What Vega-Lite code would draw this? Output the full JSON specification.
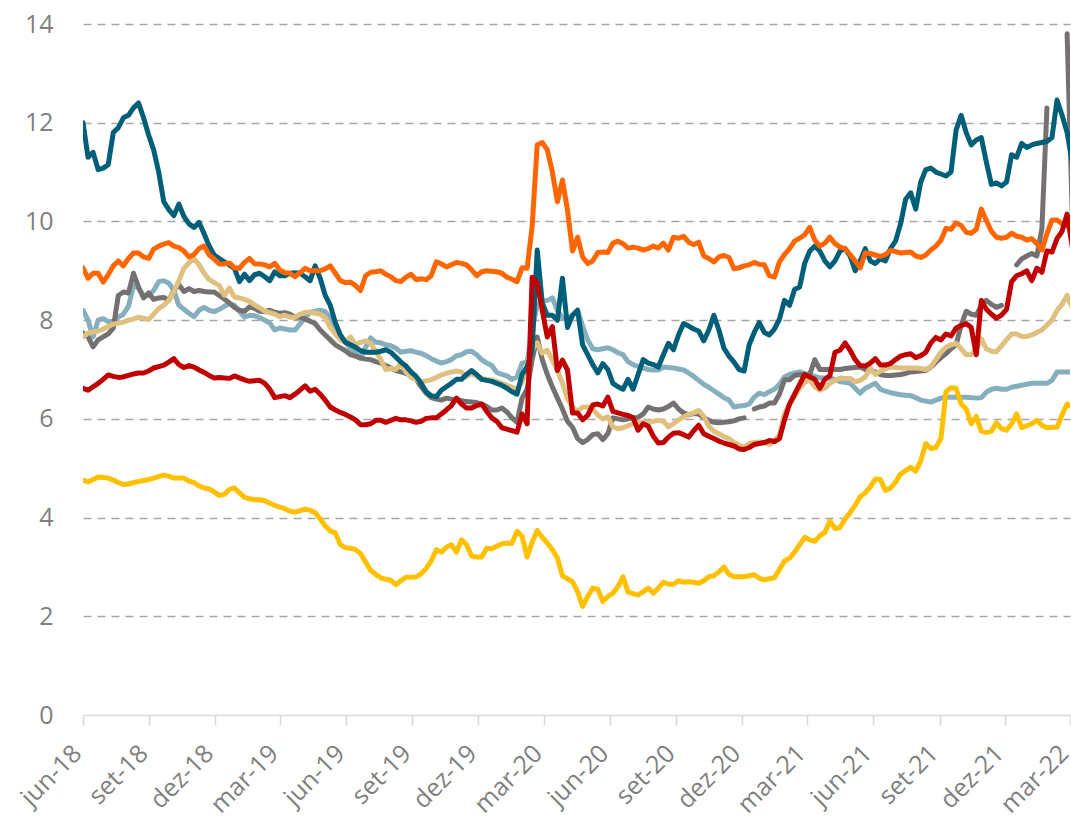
{
"$schema": "https://vega.github.io/schema/vega-lite/v6.json",
"width": 987,
"height": 691,
"autosize": {"type": "none"},
"padding": {"left": 83, "top": 24, "right": 1, "bottom": 106},
"background": "white",
"config": {"view": {"stroke": null}, "font": "Open Sans"},
"data": {"values": [
{"d":"2018-06-01","T":12.0,"O":9.06,"G":7.74,"L":8.2,"N":7.66,"R":6.62,"Y":4.76},
{"d":"2018-06-08","T":11.3,"O":8.85,"G":7.66,"L":8.0,"N":7.74,"R":6.58,"Y":4.72},
{"d":"2018-06-15","T":11.4,"O":8.95,"G":7.46,"L":7.66,"N":7.76,"R":6.65,"Y":4.77},
{"d":"2018-06-22","T":11.05,"O":8.95,"G":7.6,"L":8.0,"N":7.78,"R":6.72,"Y":4.82},
{"d":"2018-06-29","T":11.08,"O":8.77,"G":7.66,"L":8.03,"N":7.82,"R":6.8,"Y":4.81},
{"d":"2018-07-06","T":11.15,"O":8.92,"G":7.72,"L":7.97,"N":7.87,"R":6.89,"Y":4.8},
{"d":"2018-07-13","T":11.8,"O":9.1,"G":7.84,"L":7.97,"N":7.92,"R":6.86,"Y":4.76},
{"d":"2018-07-20","T":11.9,"O":9.2,"G":8.5,"L":8.06,"N":7.94,"R":6.84,"Y":4.71},
{"d":"2018-07-27","T":12.1,"O":9.1,"G":8.57,"L":8.12,"N":7.96,"R":6.85,"Y":4.67},
{"d":"2018-08-03","T":12.15,"O":9.25,"G":8.55,"L":8.28,"N":8.0,"R":6.88,"Y":4.68},
{"d":"2018-08-10","T":12.3,"O":9.36,"G":8.95,"L":8.7,"N":8.02,"R":6.91,"Y":4.71},
{"d":"2018-08-17","T":12.4,"O":9.36,"G":8.67,"L":8.65,"N":8.06,"R":6.93,"Y":4.73},
{"d":"2018-08-24","T":12.1,"O":9.28,"G":8.45,"L":8.5,"N":8.04,"R":6.93,"Y":4.75},
{"d":"2018-08-31","T":11.75,"O":9.25,"G":8.55,"L":8.5,"N":8.01,"R":6.97,"Y":4.77},
{"d":"2018-09-07","T":11.45,"O":9.44,"G":8.42,"L":8.6,"N":8.12,"R":7.03,"Y":4.8},
{"d":"2018-09-14","T":11.0,"O":9.5,"G":8.45,"L":8.78,"N":8.24,"R":7.06,"Y":4.83},
{"d":"2018-09-21","T":10.4,"O":9.54,"G":8.46,"L":8.8,"N":8.3,"R":7.09,"Y":4.86},
{"d":"2018-09-28","T":10.24,"O":9.57,"G":8.4,"L":8.75,"N":8.4,"R":7.15,"Y":4.84},
{"d":"2018-10-05","T":10.12,"O":9.5,"G":8.6,"L":8.6,"N":8.58,"R":7.22,"Y":4.8},
{"d":"2018-10-12","T":10.35,"O":9.47,"G":8.72,"L":8.3,"N":8.8,"R":7.1,"Y":4.8},
{"d":"2018-10-19","T":10.1,"O":9.4,"G":8.58,"L":8.22,"N":9.05,"R":7.04,"Y":4.8},
{"d":"2018-10-26","T":9.95,"O":9.28,"G":8.64,"L":8.14,"N":9.16,"R":7.08,"Y":4.74},
{"d":"2018-11-02","T":9.88,"O":9.33,"G":8.58,"L":8.07,"N":9.25,"R":7.05,"Y":4.71},
{"d":"2018-11-09","T":9.98,"O":9.45,"G":8.6,"L":8.2,"N":9.12,"R":6.99,"Y":4.64},
{"d":"2018-11-16","T":9.75,"O":9.5,"G":8.58,"L":8.26,"N":8.95,"R":6.94,"Y":4.6},
{"d":"2018-11-23","T":9.5,"O":9.32,"G":8.57,"L":8.2,"N":8.82,"R":6.88,"Y":4.58},
{"d":"2018-11-30","T":9.32,"O":9.24,"G":8.57,"L":8.17,"N":8.76,"R":6.83,"Y":4.52},
{"d":"2018-12-07","T":9.25,"O":9.14,"G":8.5,"L":8.22,"N":8.7,"R":6.84,"Y":4.45},
{"d":"2018-12-14","T":9.18,"O":9.14,"G":8.43,"L":8.28,"N":8.5,"R":6.83,"Y":4.47},
{"d":"2018-12-21","T":9.12,"O":9.16,"G":8.35,"L":8.33,"N":8.65,"R":6.82,"Y":4.57},
{"d":"2018-12-28","T":9.05,"O":9.06,"G":8.26,"L":8.3,"N":8.47,"R":6.87,"Y":4.6},
{"d":"2019-01-04","T":8.78,"O":9.05,"G":8.2,"L":8.18,"N":8.45,"R":6.83,"Y":4.5},
{"d":"2019-01-11","T":8.93,"O":9.17,"G":8.18,"L":8.06,"N":8.42,"R":6.79,"Y":4.41},
{"d":"2019-01-18","T":8.8,"O":9.25,"G":8.27,"L":8.1,"N":8.38,"R":6.76,"Y":4.38},
{"d":"2019-01-25","T":8.92,"O":9.14,"G":8.24,"L":8.09,"N":8.31,"R":6.77,"Y":4.36},
{"d":"2019-02-01","T":8.95,"O":9.14,"G":8.18,"L":8.05,"N":8.25,"R":6.78,"Y":4.36},
{"d":"2019-02-08","T":8.88,"O":9.12,"G":8.17,"L":8.0,"N":8.18,"R":6.72,"Y":4.34},
{"d":"2019-02-15","T":8.8,"O":9.08,"G":8.2,"L":7.94,"N":8.15,"R":6.6,"Y":4.29},
{"d":"2019-02-22","T":8.98,"O":9.15,"G":8.16,"L":7.8,"N":8.12,"R":6.43,"Y":4.25},
{"d":"2019-03-01","T":8.9,"O":9.02,"G":8.14,"L":7.84,"N":8.07,"R":6.45,"Y":4.21},
{"d":"2019-03-08","T":8.9,"O":8.96,"G":8.15,"L":7.82,"N":8.1,"R":6.47,"Y":4.18},
{"d":"2019-03-15","T":8.95,"O":8.95,"G":8.12,"L":7.8,"N":8.06,"R":6.43,"Y":4.13},
{"d":"2019-03-22","T":8.96,"O":8.88,"G":8.06,"L":7.8,"N":8.06,"R":6.5,"Y":4.11},
{"d":"2019-03-29","T":8.95,"O":8.96,"G":8.06,"L":7.92,"N":8.12,"R":6.58,"Y":4.14},
{"d":"2019-04-05","T":8.88,"O":9.05,"G":8.02,"L":8.05,"N":8.16,"R":6.67,"Y":4.17},
{"d":"2019-04-12","T":8.8,"O":9.0,"G":7.98,"L":8.16,"N":8.16,"R":6.56,"Y":4.15},
{"d":"2019-04-19","T":9.1,"O":9.0,"G":7.93,"L":8.18,"N":8.14,"R":6.6,"Y":4.1},
{"d":"2019-04-26","T":8.85,"O":9.0,"G":7.8,"L":8.2,"N":8.12,"R":6.5,"Y":3.97},
{"d":"2019-05-03","T":8.5,"O":9.04,"G":7.7,"L":8.17,"N":8.05,"R":6.38,"Y":3.83},
{"d":"2019-05-10","T":8.3,"O":9.1,"G":7.6,"L":8.05,"N":7.85,"R":6.24,"Y":3.73},
{"d":"2019-05-17","T":7.95,"O":8.95,"G":7.5,"L":7.85,"N":7.72,"R":6.18,"Y":3.69},
{"d":"2019-05-24","T":7.7,"O":8.8,"G":7.44,"L":7.68,"N":7.6,"R":6.13,"Y":3.45},
{"d":"2019-05-31","T":7.55,"O":8.76,"G":7.38,"L":7.55,"N":7.55,"R":6.09,"Y":3.39},
{"d":"2019-06-07","T":7.5,"O":8.77,"G":7.3,"L":7.43,"N":7.66,"R":6.04,"Y":3.38},
{"d":"2019-06-14","T":7.45,"O":8.7,"G":7.27,"L":7.33,"N":7.5,"R":5.98,"Y":3.35},
{"d":"2019-06-21","T":7.38,"O":8.6,"G":7.23,"L":7.23,"N":7.55,"R":5.88,"Y":3.27},
{"d":"2019-06-28","T":7.35,"O":8.9,"G":7.21,"L":7.45,"N":7.58,"R":5.88,"Y":3.1},
{"d":"2019-07-05","T":7.35,"O":8.97,"G":7.2,"L":7.64,"N":7.53,"R":5.9,"Y":2.93},
{"d":"2019-07-12","T":7.35,"O":8.98,"G":7.16,"L":7.55,"N":7.37,"R":5.97,"Y":2.85},
{"d":"2019-07-19","T":7.37,"O":9.0,"G":7.13,"L":7.54,"N":7.2,"R":5.97,"Y":2.78},
{"d":"2019-07-26","T":7.4,"O":8.93,"G":7.08,"L":7.5,"N":7.0,"R":5.93,"Y":2.75},
{"d":"2019-08-02","T":7.35,"O":8.88,"G":7.03,"L":7.48,"N":7.02,"R":5.97,"Y":2.73},
{"d":"2019-08-09","T":7.25,"O":8.8,"G":6.98,"L":7.43,"N":7.0,"R":6.01,"Y":2.64},
{"d":"2019-08-16","T":7.15,"O":8.78,"G":6.95,"L":7.35,"N":7.12,"R":5.98,"Y":2.72},
{"d":"2019-08-23","T":7.07,"O":8.87,"G":6.92,"L":7.37,"N":6.95,"R":5.98,"Y":2.79},
{"d":"2019-08-30","T":6.95,"O":8.93,"G":6.88,"L":7.38,"N":6.84,"R":5.96,"Y":2.79},
{"d":"2019-09-06","T":6.86,"O":8.82,"G":6.8,"L":7.35,"N":6.79,"R":5.93,"Y":2.8},
{"d":"2019-09-13","T":6.72,"O":8.84,"G":6.65,"L":7.33,"N":6.75,"R":5.95,"Y":2.86},
{"d":"2019-09-20","T":6.55,"O":8.82,"G":6.52,"L":7.28,"N":6.77,"R":6.01,"Y":2.97},
{"d":"2019-09-27","T":6.47,"O":8.9,"G":6.43,"L":7.22,"N":6.79,"R":6.02,"Y":3.12},
{"d":"2019-10-04","T":6.45,"O":9.18,"G":6.4,"L":7.17,"N":6.84,"R":6.02,"Y":3.35},
{"d":"2019-10-11","T":6.58,"O":9.14,"G":6.38,"L":7.13,"N":6.89,"R":6.1,"Y":3.3},
{"d":"2019-10-18","T":6.65,"O":9.08,"G":6.42,"L":7.16,"N":6.92,"R":6.18,"Y":3.4},
{"d":"2019-10-25","T":6.72,"O":9.12,"G":6.4,"L":7.2,"N":6.95,"R":6.27,"Y":3.45},
{"d":"2019-11-01","T":6.8,"O":9.17,"G":6.38,"L":7.28,"N":6.97,"R":6.42,"Y":3.3},
{"d":"2019-11-08","T":6.8,"O":9.15,"G":6.37,"L":7.3,"N":6.95,"R":6.3,"Y":3.55},
{"d":"2019-11-15","T":6.9,"O":9.12,"G":6.35,"L":7.36,"N":6.86,"R":6.22,"Y":3.45},
{"d":"2019-11-22","T":6.98,"O":9.02,"G":6.34,"L":7.37,"N":6.92,"R":6.22,"Y":3.22},
{"d":"2019-11-29","T":6.9,"O":8.9,"G":6.33,"L":7.3,"N":6.86,"R":6.27,"Y":3.2},
{"d":"2019-12-06","T":6.8,"O":8.98,"G":6.3,"L":7.2,"N":6.82,"R":6.3,"Y":3.2},
{"d":"2019-12-13","T":6.78,"O":9.0,"G":6.25,"L":7.13,"N":6.8,"R":6.15,"Y":3.38},
{"d":"2019-12-20","T":6.76,"O":8.99,"G":6.18,"L":7.08,"N":6.79,"R":6.02,"Y":3.37},
{"d":"2019-12-27","T":6.72,"O":8.98,"G":6.18,"L":6.94,"N":6.76,"R":5.95,"Y":3.42},
{"d":"2020-01-03","T":6.68,"O":8.95,"G":6.22,"L":6.9,"N":6.72,"R":5.82,"Y":3.47},
{"d":"2020-01-10","T":6.62,"O":8.87,"G":6.14,"L":6.87,"N":6.68,"R":5.79,"Y":3.48},
{"d":"2020-01-17","T":6.55,"O":8.83,"G":6.02,"L":6.8,"N":6.64,"R":5.76,"Y":3.48},
{"d":"2020-01-24","T":6.5,"O":8.78,"G":5.93,"L":6.85,"N":6.6,"R":5.73,"Y":3.72},
{"d":"2020-01-31","T":6.9,"O":9.06,"G":6.42,"L":7.13,"N":6.74,"R":6.1,"Y":3.62},
{"d":"2020-02-07","T":7.05,"O":9.05,"G":6.6,"L":7.15,"N":7.1,"R":5.9,"Y":3.2},
{"d":"2020-02-14","T":7.4,"O":9.9,"G":7.2,"L":7.8,"N":7.4,"R":8.87,"Y":3.5},
{"d":"2020-02-21","T":9.42,"O":11.55,"G":7.66,"L":8.3,"N":7.54,"R":8.75,"Y":3.74},
{"d":"2020-02-28","T":8.35,"O":11.6,"G":7.2,"L":8.38,"N":7.33,"R":8.2,"Y":3.6},
{"d":"2020-03-06","T":8.1,"O":11.45,"G":6.9,"L":8.4,"N":7.39,"R":7.66,"Y":3.48},
{"d":"2020-03-13","T":8.1,"O":11.0,"G":6.65,"L":8.45,"N":7.19,"R":7.87,"Y":3.35},
{"d":"2020-03-20","T":8.0,"O":10.4,"G":6.42,"L":8.2,"N":6.98,"R":6.98,"Y":3.18},
{"d":"2020-03-27","T":8.85,"O":10.84,"G":6.2,"L":8.04,"N":6.72,"R":7.19,"Y":2.82},
{"d":"2020-04-03","T":7.85,"O":10.23,"G":5.95,"L":8.04,"N":6.4,"R":6.99,"Y":2.76},
{"d":"2020-04-10","T":8.1,"O":9.4,"G":5.83,"L":8.1,"N":6.25,"R":6.12,"Y":2.7},
{"d":"2020-04-17","T":8.2,"O":9.68,"G":5.6,"L":8.2,"N":6.15,"R":6.12,"Y":2.5},
{"d":"2020-04-24","T":7.5,"O":9.28,"G":5.52,"L":7.88,"N":6.24,"R":5.98,"Y":2.2},
{"d":"2020-05-01","T":7.3,"O":9.15,"G":5.58,"L":7.6,"N":6.24,"R":6.07,"Y":2.4},
{"d":"2020-05-08","T":7.1,"O":9.2,"G":5.68,"L":7.42,"N":6.2,"R":6.28,"Y":2.57},
{"d":"2020-05-15","T":6.93,"O":9.37,"G":5.7,"L":7.4,"N":6.08,"R":6.3,"Y":2.55},
{"d":"2020-05-22","T":7.12,"O":9.38,"G":5.58,"L":7.42,"N":6.0,"R":6.26,"Y":2.3},
{"d":"2020-05-29","T":7.0,"O":9.37,"G":5.7,"L":7.44,"N":6.04,"R":6.44,"Y":2.4},
{"d":"2020-06-05","T":6.72,"O":9.56,"G":6.02,"L":7.4,"N":5.84,"R":6.15,"Y":2.47},
{"d":"2020-06-12","T":6.65,"O":9.6,"G":6.0,"L":7.34,"N":5.8,"R":6.12,"Y":2.6},
{"d":"2020-06-19","T":6.6,"O":9.55,"G":5.98,"L":7.3,"N":5.82,"R":6.09,"Y":2.8},
{"d":"2020-06-26","T":6.8,"O":9.46,"G":6.0,"L":7.16,"N":5.86,"R":6.07,"Y":2.49},
{"d":"2020-07-03","T":6.6,"O":9.48,"G":6.02,"L":7.1,"N":5.9,"R":6.02,"Y":2.46},
{"d":"2020-07-10","T":6.9,"O":9.46,"G":6.03,"L":7.06,"N":5.93,"R":5.77,"Y":2.43},
{"d":"2020-07-17","T":7.2,"O":9.42,"G":6.1,"L":7.03,"N":5.93,"R":5.9,"Y":2.5},
{"d":"2020-07-24","T":7.13,"O":9.45,"G":6.24,"L":7.0,"N":5.92,"R":5.85,"Y":2.57},
{"d":"2020-07-31","T":7.1,"O":9.5,"G":6.2,"L":6.99,"N":5.95,"R":5.65,"Y":2.47},
{"d":"2020-08-07","T":7.05,"O":9.46,"G":6.18,"L":6.99,"N":5.97,"R":5.51,"Y":2.57},
{"d":"2020-08-14","T":7.3,"O":9.56,"G":6.2,"L":7.05,"N":5.95,"R":5.52,"Y":2.69},
{"d":"2020-08-21","T":7.53,"O":9.42,"G":6.25,"L":7.04,"N":5.84,"R":5.63,"Y":2.65},
{"d":"2020-08-28","T":7.4,"O":9.68,"G":6.32,"L":7.03,"N":5.9,"R":5.71,"Y":2.65},
{"d":"2020-09-04","T":7.7,"O":9.66,"G":6.2,"L":7.01,"N":5.98,"R":5.72,"Y":2.72},
{"d":"2020-09-11","T":7.93,"O":9.7,"G":6.12,"L":6.99,"N":6.04,"R":5.68,"Y":2.69},
{"d":"2020-09-18","T":7.88,"O":9.58,"G":6.08,"L":6.93,"N":6.09,"R":5.63,"Y":2.7},
{"d":"2020-09-25","T":7.82,"O":9.53,"G":6.11,"L":6.86,"N":6.12,"R":5.76,"Y":2.69},
{"d":"2020-10-02","T":7.78,"O":9.58,"G":6.1,"L":6.78,"N":6.17,"R":5.87,"Y":2.67},
{"d":"2020-10-09","T":7.58,"O":9.3,"G":6.02,"L":6.7,"N":6.05,"R":5.7,"Y":2.72},
{"d":"2020-10-16","T":7.8,"O":9.25,"G":5.97,"L":6.64,"N":5.85,"R":5.65,"Y":2.8},
{"d":"2020-10-23","T":8.1,"O":9.18,"G":5.93,"L":6.57,"N":5.75,"R":5.6,"Y":2.82},
{"d":"2020-10-30","T":7.8,"O":9.28,"G":5.92,"L":6.5,"N":5.7,"R":5.55,"Y":2.9},
{"d":"2020-11-06","T":7.43,"O":9.31,"G":5.93,"L":6.43,"N":5.64,"R":5.51,"Y":3.0},
{"d":"2020-11-13","T":7.27,"O":9.27,"G":5.94,"L":6.38,"N":5.6,"R":5.48,"Y":2.85},
{"d":"2020-11-20","T":7.15,"O":9.04,"G":5.96,"L":6.24,"N":5.52,"R":5.45,"Y":2.8},
{"d":"2020-11-27","T":7.0,"O":9.06,"G":6.0,"L":6.26,"N":5.47,"R":5.39,"Y":2.8},
{"d":"2020-12-04","T":6.97,"O":9.1,"G":6.02,"L":6.27,"N":5.43,"R":5.38,"Y":2.8},
{"d":"2020-12-11","T":7.5,"O":9.12,"G":null,"L":6.3,"N":5.5,"R":5.42,"Y":2.82},
{"d":"2020-12-18","T":7.75,"O":9.17,"G":6.2,"L":6.44,"N":5.52,"R":5.48,"Y":2.84},
{"d":"2020-12-25","T":7.95,"O":9.13,"G":6.24,"L":6.52,"N":5.53,"R":5.5,"Y":2.77},
{"d":"2021-01-01","T":7.75,"O":9.12,"G":6.26,"L":6.49,"N":5.52,"R":5.52,"Y":2.74},
{"d":"2021-01-08","T":7.7,"O":8.9,"G":6.32,"L":6.55,"N":5.48,"R":5.56,"Y":2.76},
{"d":"2021-01-15","T":7.82,"O":8.87,"G":6.32,"L":6.6,"N":5.55,"R":5.54,"Y":2.78},
{"d":"2021-01-22","T":8.02,"O":9.18,"G":6.5,"L":6.7,"N":5.67,"R":5.6,"Y":2.95},
{"d":"2021-01-29","T":8.4,"O":9.33,"G":6.79,"L":6.85,"N":6.1,"R":5.98,"Y":3.12},
{"d":"2021-02-05","T":8.3,"O":9.45,"G":6.79,"L":6.9,"N":6.3,"R":6.3,"Y":3.18},
{"d":"2021-02-12","T":8.62,"O":9.6,"G":6.88,"L":6.93,"N":6.45,"R":6.5,"Y":3.3},
{"d":"2021-02-19","T":8.67,"O":9.66,"G":6.9,"L":6.95,"N":6.62,"R":6.7,"Y":3.45},
{"d":"2021-02-26","T":9.15,"O":9.73,"G":6.86,"L":6.92,"N":6.74,"R":6.9,"Y":3.6},
{"d":"2021-03-05","T":9.4,"O":9.88,"G":6.9,"L":6.89,"N":6.79,"R":6.85,"Y":3.55},
{"d":"2021-03-12","T":9.5,"O":9.62,"G":7.2,"L":6.86,"N":6.65,"R":6.8,"Y":3.52},
{"d":"2021-03-19","T":9.4,"O":9.5,"G":7.0,"L":6.83,"N":6.58,"R":6.62,"Y":3.63},
{"d":"2021-03-26","T":9.2,"O":9.56,"G":7.0,"L":6.83,"N":6.62,"R":6.8,"Y":3.7},
{"d":"2021-04-02","T":9.08,"O":9.68,"G":7.0,"L":6.83,"N":6.72,"R":6.88,"Y":3.93},
{"d":"2021-04-09","T":9.2,"O":9.55,"G":7.0,"L":6.8,"N":6.78,"R":7.35,"Y":3.78},
{"d":"2021-04-16","T":9.4,"O":9.48,"G":7.0,"L":6.75,"N":6.83,"R":7.39,"Y":3.8},
{"d":"2021-04-23","T":9.45,"O":9.45,"G":7.02,"L":6.74,"N":6.82,"R":7.54,"Y":3.97},
{"d":"2021-04-30","T":9.3,"O":9.33,"G":7.03,"L":6.72,"N":6.82,"R":7.39,"Y":4.1},
{"d":"2021-05-07","T":9.0,"O":9.2,"G":7.04,"L":6.62,"N":6.75,"R":7.2,"Y":4.25},
{"d":"2021-05-14","T":9.2,"O":9.06,"G":7.05,"L":6.52,"N":6.78,"R":7.08,"Y":4.42},
{"d":"2021-05-21","T":9.45,"O":9.36,"G":7.0,"L":6.62,"N":6.85,"R":7.07,"Y":4.5},
{"d":"2021-05-28","T":9.2,"O":9.35,"G":6.98,"L":6.67,"N":7.03,"R":7.13,"Y":4.62},
{"d":"2021-06-04","T":9.15,"O":9.32,"G":6.95,"L":6.72,"N":6.9,"R":7.22,"Y":4.78},
{"d":"2021-06-11","T":9.24,"O":9.29,"G":6.9,"L":6.6,"N":6.97,"R":7.09,"Y":4.77},
{"d":"2021-06-18","T":9.2,"O":9.33,"G":6.88,"L":6.56,"N":7.01,"R":7.09,"Y":4.55},
{"d":"2021-06-25","T":9.45,"O":9.41,"G":6.88,"L":6.53,"N":7.05,"R":7.12,"Y":4.6},
{"d":"2021-07-02","T":9.6,"O":9.39,"G":6.89,"L":6.51,"N":7.04,"R":7.2,"Y":4.72},
{"d":"2021-07-09","T":9.95,"O":9.36,"G":6.9,"L":6.49,"N":7.03,"R":7.27,"Y":4.88},
{"d":"2021-07-16","T":10.45,"O":9.37,"G":6.92,"L":6.48,"N":7.03,"R":7.3,"Y":4.95},
{"d":"2021-07-23","T":10.58,"O":9.38,"G":6.95,"L":6.47,"N":7.03,"R":7.32,"Y":5.02},
{"d":"2021-07-30","T":10.25,"O":9.3,"G":6.96,"L":6.43,"N":7.03,"R":7.24,"Y":4.94},
{"d":"2021-08-06","T":10.8,"O":9.27,"G":6.97,"L":6.38,"N":7.02,"R":7.28,"Y":5.15},
{"d":"2021-08-13","T":11.05,"O":9.32,"G":6.98,"L":6.36,"N":7.0,"R":7.35,"Y":5.5},
{"d":"2021-08-20","T":11.08,"O":9.42,"G":7.05,"L":6.34,"N":7.06,"R":7.54,"Y":5.4},
{"d":"2021-08-27","T":11.0,"O":9.5,"G":7.15,"L":6.38,"N":7.2,"R":7.65,"Y":5.42},
{"d":"2021-09-03","T":10.96,"O":9.62,"G":7.24,"L":6.42,"N":7.35,"R":7.6,"Y":5.6},
{"d":"2021-09-10","T":10.92,"O":9.86,"G":7.32,"L":6.44,"N":7.45,"R":7.72,"Y":6.55},
{"d":"2021-09-17","T":11.0,"O":9.84,"G":7.42,"L":6.44,"N":7.5,"R":7.68,"Y":6.63},
{"d":"2021-09-24","T":11.85,"O":9.97,"G":7.5,"L":6.44,"N":7.53,"R":7.84,"Y":6.62},
{"d":"2021-10-01","T":12.15,"O":9.92,"G":7.9,"L":6.44,"N":7.42,"R":7.89,"Y":6.3},
{"d":"2021-10-08","T":11.8,"O":9.78,"G":8.18,"L":6.44,"N":7.3,"R":7.93,"Y":6.2},
{"d":"2021-10-15","T":11.55,"O":9.76,"G":8.12,"L":6.43,"N":7.3,"R":7.85,"Y":5.9},
{"d":"2021-10-22","T":11.65,"O":9.84,"G":8.1,"L":6.42,"N":7.42,"R":7.3,"Y":6.05},
{"d":"2021-10-29","T":11.7,"O":10.25,"G":8.3,"L":6.43,"N":7.62,"R":8.4,"Y":5.75},
{"d":"2021-11-05","T":11.2,"O":10.02,"G":8.4,"L":6.54,"N":7.42,"R":8.22,"Y":5.72},
{"d":"2021-11-12","T":10.75,"O":9.8,"G":8.32,"L":6.6,"N":7.37,"R":8.12,"Y":5.75},
{"d":"2021-11-19","T":10.78,"O":9.68,"G":8.26,"L":6.62,"N":7.36,"R":8.04,"Y":5.92},
{"d":"2021-11-26","T":10.72,"O":9.66,"G":8.3,"L":6.6,"N":7.48,"R":8.1,"Y":5.8},
{"d":"2021-12-03","T":10.8,"O":9.68,"G":null,"L":6.6,"N":7.6,"R":8.22,"Y":5.77},
{"d":"2021-12-10","T":11.35,"O":9.76,"G":null,"L":6.64,"N":7.72,"R":8.78,"Y":5.9},
{"d":"2021-12-17","T":11.3,"O":9.7,"G":9.12,"L":6.66,"N":7.72,"R":8.9,"Y":6.1},
{"d":"2021-12-24","T":11.58,"O":9.68,"G":9.24,"L":6.68,"N":7.67,"R":8.94,"Y":5.82},
{"d":"2021-12-31","T":11.5,"O":9.62,"G":9.3,"L":6.7,"N":7.67,"R":9.0,"Y":5.86},
{"d":"2022-01-07","T":11.55,"O":9.65,"G":9.35,"L":6.72,"N":7.7,"R":8.8,"Y":5.9},
{"d":"2022-01-14","T":11.58,"O":9.55,"G":9.3,"L":6.72,"N":7.75,"R":9.05,"Y":5.97},
{"d":"2022-01-21","T":11.6,"O":9.42,"G":9.85,"L":6.72,"N":7.8,"R":8.97,"Y":5.87},
{"d":"2022-01-28","T":11.62,"O":9.75,"G":12.3,"L":6.72,"N":7.9,"R":9.4,"Y":5.82},
{"d":"2022-02-04","T":11.7,"O":10.03,"G":null,"L":6.78,"N":8.0,"R":9.38,"Y":5.83},
{"d":"2022-02-11","T":12.46,"O":10.03,"G":null,"L":6.95,"N":8.2,"R":9.65,"Y":5.83},
{"d":"2022-02-18","T":12.15,"O":9.95,"G":null,"L":6.95,"N":8.32,"R":9.8,"Y":6.08},
{"d":"2022-02-25","T":11.8,"O":9.9,"G":13.8,"L":6.95,"N":8.5,"R":10.15,"Y":6.3},
{"d":"2022-03-04","T":11.2,"O":9.93,"G":10.2,"L":6.95,"N":8.25,"R":9.5,"Y":6.24}
]},
"transform": [{"fold": ["L", "G", "N", "T", "O", "R", "Y"], "as": ["s", "v"]}],
"mark": {"type": "line", "strokeWidth": 5, "strokeJoin": "round", "strokeCap": "round", "clip": true, "invalid": "break-paths-filter-domains"},
"encoding": {
  "x": {
    "field": "d", "type": "temporal",
    "scale": {"type": "utc", "domain": [{"year": 2018, "month": 6, "date": 1, "utc": true}, {"year": 2022, "month": 3, "date": 1, "utc": true}]},
    "axis": {
      "title": null, "grid": false,
      "values": [
        {"year": 2018, "month": 6, "date": 1, "utc": true}, {"year": 2018, "month": 9, "date": 1, "utc": true}, {"year": 2018, "month": 12, "date": 1, "utc": true},
        {"year": 2019, "month": 3, "date": 1, "utc": true}, {"year": 2019, "month": 6, "date": 1, "utc": true}, {"year": 2019, "month": 9, "date": 1, "utc": true}, {"year": 2019, "month": 12, "date": 1, "utc": true},
        {"year": 2020, "month": 3, "date": 1, "utc": true}, {"year": 2020, "month": 6, "date": 1, "utc": true}, {"year": 2020, "month": 9, "date": 1, "utc": true}, {"year": 2020, "month": 12, "date": 1, "utc": true},
        {"year": 2021, "month": 3, "date": 1, "utc": true}, {"year": 2021, "month": 6, "date": 1, "utc": true}, {"year": 2021, "month": 9, "date": 1, "utc": true}, {"year": 2021, "month": 12, "date": 1, "utc": true},
        {"year": 2022, "month": 3, "date": 1, "utc": true}
      ],
      "labelExpr": "['jan','fev','mar','abr','mai','jun','jul','ago','set','out','nov','dez'][utcmonth(datum.value)] + '-' + utcFormat(datum.value, '%y')",
      "labelAngle": -45, "labelAlign": "right", "labelBaseline": "middle",
      "labelFontSize": 25, "labelColor": "#7f7f7f", "labelPadding": 24, "labelOffset": -6,
      "labelOverlap": false, "labelBound": false, "labelFlush": false,
      "domainColor": "#d9d9d9", "domainWidth": 1.5,
      "tickColor": "#d9d9d9", "tickWidth": 1.5, "tickSize": 10
    }
  },
  "y": {
    "field": "v", "type": "quantitative",
    "scale": {"domain": [0, 14], "nice": false, "zero": true},
    "axis": {
      "title": null, "values": [0, 2, 4, 6, 8, 10, 12, 14],
      "domain": false, "ticks": false,
      "labelFontSize": 25, "labelColor": "#7f7f7f", "labelPadding": 30,
      "grid": true, "gridColor": "#a6a6a6", "gridWidth": 1.5, "gridDash": [8, 6],
      "gridOpacity": {"condition": {"test": "datum.value === 0", "value": 0}, "value": 1}
    }
  },
  "color": {
    "field": "s", "type": "nominal", "legend": null,
    "scale": {"domain": ["T", "O", "G", "L", "N", "R", "Y"], "range": ["#005f78", "#ff6600", "#767171", "#85afbe", "#dfc07f", "#c00000", "#ffc000"]}
  }
}
}
